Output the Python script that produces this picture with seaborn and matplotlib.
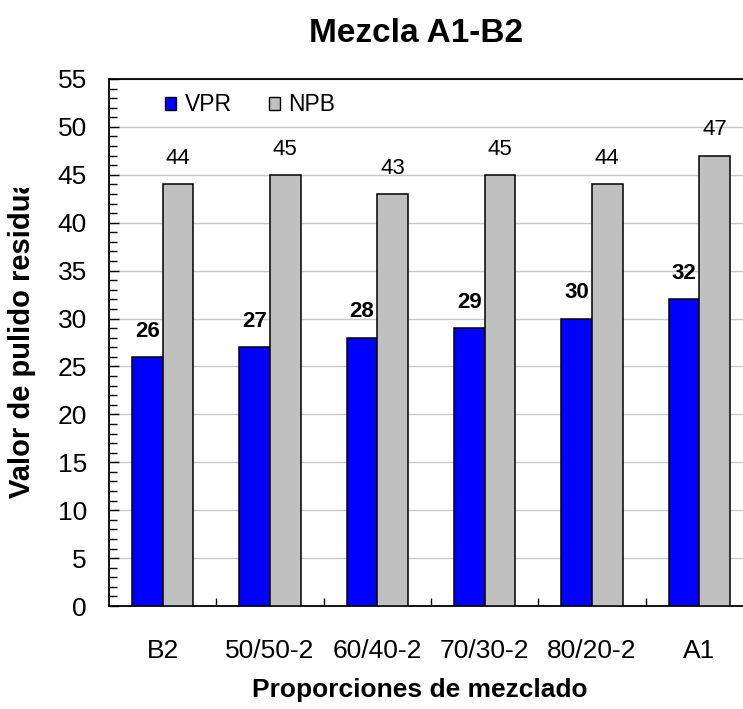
import matplotlib
matplotlib.use("Agg")
import matplotlib.pyplot as plt
import seaborn as sns
import pandas as pd
from matplotlib.patches import Patch
from matplotlib.transforms import Bbox
from matplotlib.ticker import MultipleLocator, FixedLocator

categories = ["B2", "50/50-2", "60/40-2", "70/30-2", "80/20-2", "A1"]
vpr = [26, 27, 28, 29, 30, 32]
npb = [44, 45, 43, 45, 44, 47]
series = ["VPR", "NPB"]
colors = {"VPR": "#0000FF", "NPB": "#C0C0C0"}

df = pd.DataFrame({
    "Proporción": categories * 2,
    "Serie": ["VPR"] * len(categories) + ["NPB"] * len(categories),
    "Valor": vpr + npb,
})

sns.set_style("white")
plt.rcParams["font.family"] = ["Liberation Sans", "DejaVu Sans"]
plt.rcParams.update({"text.color": "black", "axes.labelcolor": "black",
                     "xtick.color": "black", "ytick.color": "black"})

W, H = 743, 709
fig = plt.figure(figsize=(W / 100, H / 100), dpi=100)
ax = fig.add_axes([109 / W, 1 - 606 / H, (753 - 109) / W, (606 - 79) / H])

sns.barplot(data=df, x="Proporción", y="Valor", hue="Serie", hue_order=series,
            palette=colors, order=categories, width=0.57, gap=0,
            edgecolor="black", linewidth=1.1, saturation=1, ax=ax,
            legend=False, zorder=3)

ax.set_xlim(-0.5, len(categories) - 0.5)
ax.set_ylim(0, 55)
ax.yaxis.set_major_locator(MultipleLocator(5))
ax.yaxis.set_minor_locator(MultipleLocator(1))
ax.xaxis.set_minor_locator(FixedLocator([i + 0.5 for i in range(len(categories) - 1)]))
ax.grid(axis="y", which="major", color="#C8C8C8", linewidth=1.0, zorder=0)
ax.set_axisbelow(True)

ax.tick_params(axis="y", which="major", direction="in", length=7, width=1,
               labelsize=19, pad=16, left=True)
ax.tick_params(axis="y", which="minor", direction="in", length=6, width=1, left=True)
ax.tick_params(axis="x", which="major", length=0, labelsize=19, pad=24)
ax.tick_params(axis="x", which="minor", direction="in", length=6, width=1, bottom=True)
for s in ax.spines.values():
    s.set_color("black")
    s.set_linewidth(1.3)
ax.set_xlabel("")
ax.set_ylabel("")

# value labels above each bar
for cont, name in zip(ax.containers, series):
    ax.bar_label(cont, labels=[f"{int(v)}" for v in cont.datavalues], padding=11,
                 fontsize=16, color="black",
                 fontweight="bold" if name == "VPR" else "normal")

handles = [Patch(facecolor=colors[s], edgecolor="black", linewidth=1.0) for s in series]
ax.legend(handles, series, loc="upper left", bbox_to_anchor=(0.055, 1.012), ncol=2,
          frameon=False, fontsize=16.5, handlelength=0.48, handleheight=0.5,
          handletextpad=0.39, columnspacing=1.6)

fig.text(416 / W, 1 - 33 / H, "Mezcla A1-B2", ha="center", va="center",
         fontsize=24, fontweight="bold")
fig.text(420 / W, 1 - 690 / H, "Proporciones de mezclado", ha="center", va="center",
         fontsize=19, fontweight="bold")
ylab = fig.text(22 / W, 1 - 498 / H, "Valor de pulido residual", rotation=90,
                ha="center", va="bottom", fontsize=21, fontweight="bold")
# the axis title box cuts the text off at the top
ylab.set_clip_box(Bbox.from_extents(0, 0, W, H - 188))
ylab.set_clip_on(True)

fig.savefig("out.png", dpi=100)
